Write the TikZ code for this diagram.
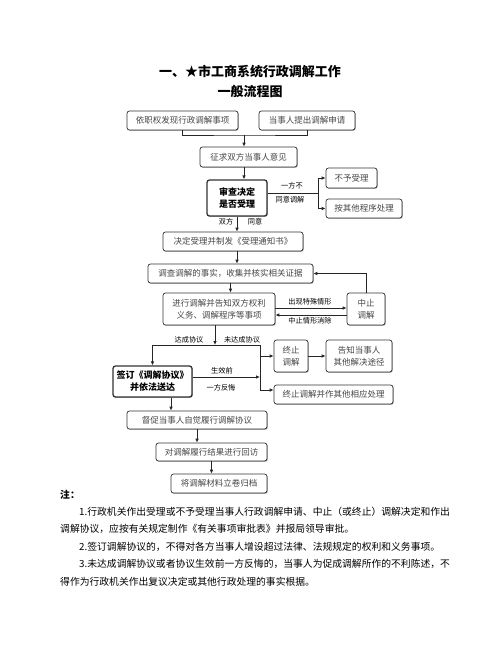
\documentclass[tikz,border=0pt]{standalone}
\usepackage{fontspec}
\setmainfont{Noto Sans CJK SC}
\usetikzlibrary{arrows.meta,shadows}
\tikzset{
  box/.style={draw=black!80, fill=white, line width=0.7pt, rounded corners=2.5pt, inner sep=0pt, align=center,
    text=black!72, font=\fontsize{8.5}{12}\selectfont,
    drop shadow={shadow xshift=0.7pt, shadow yshift=-0.7pt, fill=black!45, opacity=1}},
  boldbox/.style={box, line width=1.3pt, text=black, font=\fontsize{9}{12}\selectfont\bfseries},
  conn/.style={line width=0.8pt, draw=black!85},
  arr/.style={conn, -{Latex[length=4pt,width=3.6pt]}},
  lbl/.style={font=\fontsize{7.2}{8}\selectfont, inner sep=0pt, text=black},
  note/.style={font=\fontsize{9.8}{12}\selectfont, anchor=west, inner sep=0pt, text=black},
  ttl/.style={font=\fontsize{13}{15}\selectfont\bfseries, inner sep=0pt, text=black},
}
\newcommand\bx[7][box]{\node[#1, minimum width={(#5-#3)*1pt}, minimum height={(#6-#4)*1pt}] (#2) at ({(#3+#5)/2},{(#4+#6)/2}) {#7};}
\begin{document}
\begin{tikzpicture}[x=1pt,y=-1pt]
\useasboundingbox (0,0) rectangle (502,649);
% title
\node[ttl] (t1) at (250,72) {一、★市工商系统行政调解工作};
\node[ttl] (t2) at (250,92) {一般流程图};
% boxes
\bx{A}{127}{111}{238}{130}{依职权发现行政调解事项}
\bx{B}{259}{111}{355}{130}{当事人提出调解申请}
\bx{C}{200}{147}{297}{167}{征求双方当事人意见}
\bx[boldbox]{D}{207}{180}{267}{216}{审查决定\\是否受理}
\bx{E}{326}{168}{377}{188}{不予受理}
\bx{F}{326}{199}{402}{218}{按其他程序处理}
\bx{G}{163}{232}{303}{251}{决定受理并制发《受理通知书》}
\bx{H}{148}{264}{313}{283}{调查调解的事实，收集并核实相关证据}
\bx{I}{163}{293}{275}{325}{进行调解并告知双方权利\\义务、调解程序等事项}
\bx{J}{347}{293}{385}{325}{中止\\调解}
\bx{L}{274}{340}{308}{372}{终止\\调解}
\bx{M}{326}{340}{392}{372}{告知当事人\\其他解决途径}
\bx[boldbox]{K}{113}{366}{192}{397}{签订《调解协议》\\并依法送达}
\bx{N}{274}{385}{393}{404}{终止调解并作其他相应处理}
\bx{O}{127}{411}{267}{429}{督促当事人自觉履行调解协议}
\bx{P}{156}{443}{267}{461}{对调解履行结果进行回访}
\bx{Q}{171}{474}{267}{493}{将调解材料立卷归档}
% junction coordinates
\coordinate (j1) at (244,135);
\coordinate (dj) at (318,193);
\coordinate (jb) at (215,345);
\coordinate (kr) at (260,345);
\coordinate (kb) at (260,390);
\coordinate (ka) at (260,377);
\coordinate (ko) at (171,400);
% connectors
\draw[conn] (A.south) |- (j1) -| (B.south);
\draw[arr] (j1) -- (j1 |- C.north);
\draw[arr] (j1 |- C.south) -- (j1 |- D.north);
\draw[conn] (D.east |- dj) -- (dj);
\draw[arr] (dj) |- (E.west);
\draw[arr] (dj) |- (F.west);
\draw[arr] (D.south) -- (D.south |- G.north);
\draw[arr] (D.south |- G.south) -- (D.south |- H.north);
\draw[arr] (H.south) -- (H.south |- I.north);
\draw[arr] (I.east |- 0,308) -- (J.west |- 0,308);
\draw[arr] (J.west |- 0,315) -- (I.east |- 0,315);
\draw[arr] (J.north) |- (H.east);
\draw[arr] (jb |- I.south) -- (jb);
\draw[conn] (kr) -- (K.north |- kr);
\draw[arr] (K.north |- kr) -- (K.north);
\draw[conn] (kr) -- (kb);
\draw[arr] (kr |- L.west) -- (L.west);
\draw[arr] (kb) -- (N.west |- kb);
\draw[arr] (K.east |- ka) -- (ka);
\draw[arr] (L.east) -- (M.west);
\draw[arr] (ko |- K.south) -- (ko |- O.north);
\draw[arr] (O.south) -- (O.south |- P.north);
\draw[arr] (P.south) -- (P.south |- Q.north);
% labels
\node[lbl] (l1) at (292,186) {一方不};
\node[lbl] (l2) at (290,200) {同意调解};
\node[lbl] (l3) at (226,222) {双方};
\node[lbl] (l4) at (255,222) {同意};
\node[lbl] (l5) at (310,302) {出现特殊情形};
\node[lbl] (l6) at (310,321) {中止情形消除};
\node[lbl] (l7) at (189,340) {达成协议};
\node[lbl] (l8) at (242,340) {未达成协议};
\node[lbl] (l9) at (222,371) {生效前};
\node[lbl] (l10) at (221,388) {一方反悔};
% notes
\node[note, font=\fontsize{9.8}{12}\selectfont\bfseries] (n0) at (60,495) {注：};
\node[note] (n1) at (79,512) {1.行政机关作出受理或不予受理当事人行政调解申请、中止（或终止）调解决定和作出};
\node[note] (n2) at (60,529) {调解协议，应按有关规定制作《有关事项审批表》并报局领导审批。};
\node[note] (n3) at (79,547) {2.签订调解协议的，不得对各方当事人增设超过法律、法规规定的权利和义务事项。};
\node[note] (n4) at (79,564) {3.未达成调解协议或者协议生效前一方反悔的，当事人为促成调解所作的不利陈述，不};
\node[note] (n5) at (60,582) {得作为行政机关作出复议决定或其他行政处理的事实根据。};
\end{tikzpicture}
\end{document}
